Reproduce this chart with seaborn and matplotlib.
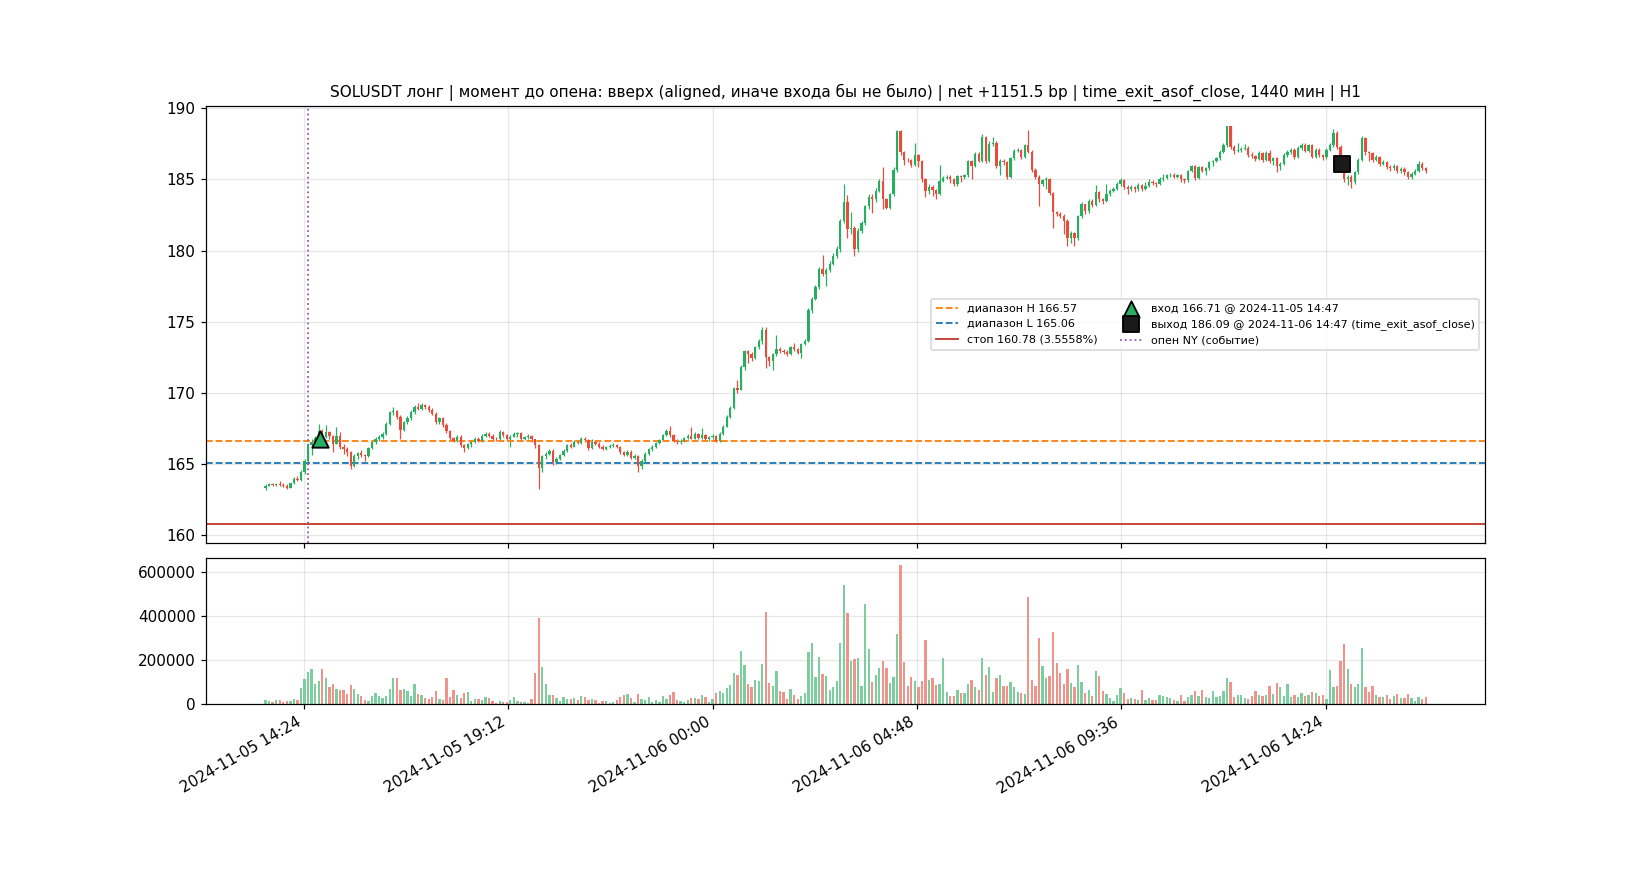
import numpy as np
import pandas as pd
import matplotlib
matplotlib.use('Agg')
import matplotlib.pyplot as plt
import matplotlib.dates as mdates
import seaborn as sns
from datetime import datetime

# ─────────────────────────────────────────────
# DATA (5-min bars, SOLUSDT)
# ─────────────────────────────────────────────

SYMBOL     = 'SOLUSDT'
FIRST_BAR  = datetime(2024, 11, 5, 13, 30)
BAR_MIN    = 5
FIRST_OPEN = 163.25

close_px = [
    163.45, 163.55, 163.50, 163.55, 163.50, 163.45, 163.30, 163.60, 163.95, 163.85,
    164.40, 165.20, 166.30, 166.50, 166.80, 167.30, 166.90, 167.25, 166.95, 166.40,
    166.95, 166.20, 166.05, 165.80, 164.85, 165.50, 165.75, 165.60, 165.50, 166.10,
    166.50, 166.70, 166.85, 167.10, 167.80, 168.60, 168.70, 168.30, 167.40, 167.90,
    168.20, 168.60, 169.00, 168.85, 169.10, 169.00, 168.80, 168.50, 167.90, 168.20,
    167.75, 167.30, 166.80, 166.60, 166.90, 166.30, 166.10, 166.35, 166.55, 166.75,
    166.60, 166.95, 167.05, 166.95, 166.75, 166.70, 167.25, 167.00, 166.75, 166.90,
    167.10, 167.15, 166.75, 166.85, 166.95, 166.70, 166.30, 164.70, 165.50, 165.70,
    165.90, 165.10, 165.35, 165.60, 165.90, 166.30, 166.20, 166.55, 166.45, 166.75,
    166.65, 166.10, 166.55, 166.40, 166.20, 166.05, 166.15, 166.25, 166.30, 166.20,
    165.80, 165.60, 165.85, 165.40, 165.55, 164.80, 165.20, 165.70, 166.00, 166.20,
    166.45, 166.65, 167.00, 167.30, 167.00, 166.60, 166.50, 166.60, 166.80, 166.95,
    166.75, 167.10, 166.80, 167.00, 166.70, 166.85, 166.95, 166.60, 167.10, 167.60,
    168.30, 168.90, 170.30, 170.20, 171.80, 172.90, 172.75, 172.40, 173.20, 173.60,
    174.40, 172.50, 172.20, 172.70, 173.10, 172.90, 172.85, 172.70, 173.20, 173.05,
    172.80, 173.40, 173.60, 175.80, 176.60, 177.40, 178.70, 178.35, 178.60, 179.05,
    179.60, 180.10, 182.10, 183.40, 181.50, 181.60, 180.10, 181.40, 181.95, 183.10,
    183.80, 183.60, 184.20, 184.90, 183.60, 183.00, 183.95, 185.70, 188.40, 186.90,
    186.40, 186.35, 186.00, 186.70, 186.30, 185.00, 184.20, 184.50, 184.25, 183.95,
    184.90, 185.10, 185.20, 185.00, 184.70, 185.25, 185.15, 185.30, 186.30, 185.95,
    186.80, 186.30, 188.00, 186.30, 187.50, 187.60, 185.95, 186.30, 186.20, 185.20,
    186.50, 187.00, 187.10, 186.60, 187.40, 186.95, 185.70, 185.20, 184.70, 184.95,
    185.00, 184.05, 182.70, 182.60, 182.45, 182.10, 180.90, 181.20, 180.85, 182.40,
    183.25, 182.75, 183.50, 183.20, 184.10, 183.60, 183.50, 183.95, 184.20, 184.35,
    184.65, 184.95, 184.50, 184.30, 184.45, 184.30, 184.60, 184.30, 184.55, 184.85,
    184.75, 184.70, 185.00, 185.10, 185.30, 185.35, 185.20, 185.30, 185.00, 184.95,
    185.60, 185.95, 185.10, 185.85, 185.60, 185.80, 186.20, 186.30, 186.50, 186.95,
    187.40, 188.75, 187.30, 187.00, 187.10, 187.15, 187.25, 186.75, 186.65, 186.45,
    186.85, 186.40, 186.85, 186.30, 186.50, 185.95, 186.10, 186.70, 186.90, 187.10,
    186.60, 187.20, 187.40, 187.00, 187.40, 186.60, 187.10, 186.70, 186.55, 187.10,
    187.40, 188.30, 187.30, 186.55, 185.00, 185.20, 184.80, 185.50, 186.40, 187.95,
    186.90, 186.85, 186.40, 186.55, 186.10, 186.20, 185.90, 185.80, 185.95, 185.60,
    185.75, 185.50, 185.20, 185.40, 185.60, 186.10, 185.80, 185.60,
]

high_px = [
    163.55, 163.65, 163.65, 163.65, 163.75, 163.60, 163.55, 163.65, 164.05, 164.10,
    164.55, 165.35, 166.45, 166.70, 166.95, 167.80, 167.45, 167.70, 167.30, 167.00,
    167.55, 167.25, 166.35, 166.15, 165.90, 165.65, 165.85, 165.95, 165.70, 166.20,
    166.60, 166.85, 167.00, 167.25, 167.95, 168.70, 168.95, 168.80, 168.40, 168.00,
    168.35, 168.75, 169.15, 169.30, 169.25, 169.20, 169.10, 168.90, 168.60, 168.30,
    168.30, 167.85, 167.40, 166.90, 167.00, 167.00, 166.40, 166.45, 166.65, 166.85,
    166.90, 167.05, 167.20, 167.20, 167.05, 166.90, 167.35, 167.30, 167.10, 167.00,
    167.20, 167.25, 167.20, 166.95, 167.05, 167.00, 166.75, 166.35, 165.60, 165.85,
    166.00, 166.00, 165.45, 165.70, 166.00, 166.40, 166.45, 166.65, 166.65, 166.85,
    166.90, 166.75, 166.70, 166.65, 166.50, 166.30, 166.25, 166.35, 166.45, 166.35,
    166.25, 165.90, 165.95, 165.95, 165.65, 165.60, 165.30, 165.80, 166.10, 166.30,
    166.55, 166.75, 167.10, 167.45, 167.65, 167.10, 166.70, 166.70, 166.90, 167.05,
    167.55, 167.20, 167.15, 167.50, 167.10, 166.95, 167.05, 167.00, 167.20, 167.75,
    168.40, 169.05, 170.40, 170.90, 171.95, 173.00, 173.00, 172.85, 173.30, 173.75,
    174.60, 174.60, 172.60, 172.80, 174.05, 173.20, 173.10, 173.00, 173.30, 173.50,
    173.15, 173.50, 173.75, 175.95, 176.75, 177.55, 178.85, 179.70, 178.75, 179.25,
    179.80, 180.35, 182.25, 184.65, 183.90, 182.70, 181.75, 181.60, 182.10, 183.20,
    184.00, 183.95, 184.40, 185.00, 185.85, 183.70, 184.05, 185.85, 188.45, 188.45,
    187.00, 186.50, 186.45, 187.60, 186.80, 186.40, 185.10, 184.70, 184.60, 184.35,
    186.00, 185.25, 185.35, 185.30, 185.10, 185.35, 185.35, 185.40, 186.40, 186.40,
    186.90, 186.90, 188.20, 188.05, 187.70, 188.00, 187.70, 186.45, 186.45, 186.30,
    186.60, 187.15, 187.20, 187.15, 187.50, 188.45, 187.05, 185.80, 185.30, 185.05,
    185.15, 185.10, 184.15, 182.80, 182.70, 182.55, 182.20, 181.35, 181.30, 182.50,
    183.40, 183.30, 183.60, 183.60, 184.60, 184.20, 183.70, 184.65, 184.35, 184.50,
    184.80, 185.10, 185.05, 184.60, 184.60, 184.55, 184.75, 184.70, 184.85, 185.00,
    184.95, 184.85, 185.15, 185.40, 185.40, 185.45, 185.45, 185.40, 185.40, 185.10,
    185.70, 186.05, 186.05, 185.95, 185.95, 185.90, 186.30, 186.40, 186.60, 187.05,
    187.55, 188.80, 188.75, 187.45, 187.60, 187.30, 187.50, 187.35, 186.90, 186.75,
    187.00, 186.95, 187.00, 187.05, 186.60, 186.55, 186.20, 186.85, 187.05, 187.20,
    187.20, 187.35, 187.60, 187.55, 187.50, 187.50, 187.25, 187.20, 186.80, 187.20,
    187.55, 188.55, 188.40, 187.40, 186.60, 185.35, 185.30, 185.60, 186.50, 188.05,
    188.00, 187.00, 186.95, 186.70, 186.65, 186.35, 186.30, 186.00, 186.10, 186.05,
    185.90, 185.85, 185.60, 185.55, 185.75, 186.30, 186.20, 185.90,
]

low_px = [
    163.15, 163.40, 163.40, 163.40, 163.40, 163.35, 163.20, 163.25, 163.55, 163.75,
    163.80, 164.30, 164.95, 165.60, 166.30, 166.70, 166.75, 166.80, 166.70, 165.85,
    166.35, 166.05, 165.70, 165.50, 164.60, 164.75, 165.35, 165.45, 165.15, 165.45,
    166.00, 166.40, 166.60, 166.75, 167.00, 167.70, 168.45, 168.15, 166.75, 167.30,
    167.80, 168.10, 168.50, 168.75, 168.80, 168.85, 168.65, 168.40, 167.80, 167.80,
    167.60, 167.15, 166.60, 166.50, 166.50, 166.20, 165.85, 166.00, 166.15, 166.45,
    166.50, 166.55, 166.90, 166.85, 166.65, 166.60, 166.65, 166.90, 166.60, 166.20,
    166.85, 166.90, 166.65, 166.65, 166.75, 166.55, 166.10, 163.20, 164.40, 165.30,
    165.60, 164.90, 164.95, 165.25, 165.50, 165.85, 166.10, 166.15, 166.35, 166.40,
    166.55, 165.95, 166.05, 166.30, 166.10, 165.95, 165.95, 166.10, 166.20, 166.10,
    165.70, 165.50, 165.50, 165.30, 165.30, 164.40, 164.65, 165.10, 165.60, 165.90,
    166.10, 166.40, 166.60, 166.95, 166.90, 166.50, 166.35, 166.40, 166.55, 166.75,
    166.70, 166.70, 166.70, 166.75, 166.60, 166.60, 166.75, 166.50, 166.55, 167.00,
    167.55, 168.20, 168.85, 169.95, 170.15, 171.60, 172.10, 172.20, 172.35, 173.10,
    173.40, 171.75, 171.90, 171.60, 172.60, 172.80, 172.70, 172.60, 172.65, 172.95,
    172.70, 172.45, 173.35, 173.55, 175.60, 176.50, 177.30, 178.20, 177.50, 178.50,
    178.95, 179.50, 179.90, 181.95, 180.90, 181.15, 179.60, 179.90, 181.20, 181.80,
    182.90, 182.65, 183.45, 184.10, 182.90, 182.90, 182.90, 183.85, 185.50, 186.70,
    186.05, 186.25, 185.90, 185.95, 185.85, 184.80, 183.80, 183.95, 183.85, 183.60,
    183.90, 184.80, 185.00, 184.75, 184.55, 184.55, 184.85, 185.00, 185.20, 185.05,
    185.85, 186.20, 186.20, 186.15, 186.20, 187.35, 185.80, 185.35, 186.05, 185.00,
    185.10, 186.40, 186.95, 186.45, 186.50, 186.85, 185.55, 185.05, 183.10, 184.55,
    184.30, 183.90, 181.60, 182.45, 182.30, 181.15, 180.35, 180.50, 180.30, 180.75,
    182.30, 182.60, 182.65, 183.05, 183.10, 183.45, 183.30, 183.45, 183.85, 184.10,
    184.25, 184.55, 184.35, 183.95, 184.20, 184.15, 184.20, 184.20, 184.25, 184.45,
    184.60, 184.45, 184.60, 184.90, 185.00, 185.20, 185.10, 185.10, 184.85, 184.75,
    184.85, 185.50, 184.95, 185.00, 185.50, 185.30, 185.70, 185.95, 186.20, 186.40,
    186.85, 187.30, 187.15, 186.80, 186.90, 186.95, 187.05, 186.60, 186.50, 186.30,
    186.35, 186.20, 186.30, 186.15, 186.00, 185.55, 185.70, 186.00, 186.60, 186.80,
    186.45, 186.50, 187.10, 186.90, 186.90, 186.50, 186.50, 186.55, 186.40, 186.45,
    187.00, 187.30, 187.15, 186.30, 184.80, 184.60, 184.40, 184.70, 185.40, 186.30,
    186.75, 186.30, 186.20, 186.30, 185.95, 186.00, 185.75, 185.60, 185.70, 185.45,
    185.45, 185.30, 185.00, 185.05, 185.30, 185.50, 185.65, 185.45,
]

# volume in thousands of SOL
volume_k = [
    18, 14, 9, 18, 18, 9, 14, 14, 23, 18,
    73, 114, 145, 159, 91, 105, 159, 118, 77, 91,
    68, 64, 64, 45, 86, 68, 45, 36, 18, 14,
    36, 50, 36, 27, 36, 68, 118, 118, 64, 68,
    59, 36, 91, 45, 41, 27, 23, 32, 59, 23,
    18, 118, 32, 64, 41, 27, 50, 55, 14, 23,
    23, 18, 32, 27, 14, 5, 14, 9, 9, 18,
    32, 14, 9, 9, 5, 23, 141, 391, 168, 91,
    41, 41, 27, 14, 32, 23, 23, 27, 18, 36,
    32, 18, 23, 18, 5, 14, 14, 5, 9, 18,
    32, 41, 45, 27, 9, 45, 23, 18, 32, 9,
    18, 9, 36, 23, 41, 55, 18, 14, 9, 18,
    27, 27, 23, 41, 32, 9, 23, 50, 59, 50,
    73, 86, 141, 132, 241, 177, 91, 77, 109, 105,
    182, 418, 95, 82, 150, 59, 55, 23, 68, 41,
    23, 36, 50, 236, 277, 123, 214, 136, 127, 64,
    77, 105, 277, 541, 414, 195, 205, 209, 82, 455,
    250, 100, 132, 164, 195, 164, 95, 123, 318, 632,
    191, 82, 123, 105, 77, 105, 291, 109, 118, 86,
    91, 209, 55, 36, 36, 64, 50, 50, 91, 109,
    77, 64, 209, 132, 168, 55, 118, 132, 82, 82,
    100, 77, 55, 50, 45, 486, 109, 82, 300, 173,
    118, 127, 327, 186, 141, 91, 159, 95, 77, 177,
    100, 50, 64, 36, 150, 127, 59, 45, 27, 14,
    41, 73, 50, 23, 27, 23, 18, 64, 18, 27,
    18, 18, 41, 36, 32, 27, 18, 14, 41, 14,
    32, 41, 59, 36, 64, 32, 27, 59, 32, 36,
    59, 118, 100, 32, 41, 41, 27, 23, 36, 59,
    41, 36, 41, 82, 45, 95, 77, 36, 91, 32,
    41, 32, 50, 36, 41, 55, 50, 36, 41, 23,
    155, 77, 82, 195, 273, 159, 91, 77, 91, 255,
    77, 55, 82, 41, 32, 32, 41, 23, 36, 45,
    27, 27, 45, 27, 14, 32, 23, 32,
]

# trade / levels
RANGE_H    = 166.57
RANGE_L    = 165.06
STOP_PX    = 160.78
STOP_PCT   = 3.5558
ENTRY_PX   = 166.71
ENTRY_TIME = datetime(2024, 11, 5, 14, 47)
EXIT_PX    = 186.09
EXIT_TIME  = datetime(2024, 11, 6, 14, 47)
NY_OPEN    = datetime(2024, 11, 5, 14, 30)
NET_BP     = 1151.5
HOLD_MIN   = 1440

GREEN = '#27ae60'
RED   = '#e74c3c'


# ─────────────────────────────────────────────
# BUILD FRAME
# ─────────────────────────────────────────────

def build_frame():
    assert len(close_px) == len(high_px) == len(low_px) == len(volume_k)
    times = pd.date_range(FIRST_BAR, periods=len(close_px), freq=f'{BAR_MIN}min')
    df = pd.DataFrame({
        'close':  close_px,
        'high':   high_px,
        'low':    low_px,
        'volume': np.array(volume_k) * 1000,
    }, index=times)
    df['open'] = df['close'].shift(1).fillna(FIRST_OPEN)
    df['x'] = mdates.date2num(times.to_pydatetime())
    df['up'] = df['close'] >= df['open']
    return df


# ─────────────────────────────────────────────
# PLOT
# ─────────────────────────────────────────────

def plot_trade(df):
    fig, (ax, axv) = plt.subplots(
        2, 1, figsize=(15, 8), dpi=110, sharex=True,
        gridspec_kw={'height_ratios': [3, 1], 'hspace': 0.05}
    )

    colors = np.where(df['up'], GREEN, RED)
    width = BAR_MIN / 1440 * 0.65
    body_lo = np.minimum(df['open'], df['close'])
    body_h = (df['close'] - df['open']).abs()

    # candles
    ax.vlines(df['x'], df['low'], df['high'], color=colors, linewidth=0.8, zorder=2)
    ax.bar(df['x'], body_h, width=width, bottom=body_lo, color=colors, zorder=3)

    # levels
    h_range_h = ax.axhline(RANGE_H, color='#ff7f0e', linestyle='--', linewidth=1.2,
                           label=f'диапазон H {RANGE_H:.2f}')
    h_range_l = ax.axhline(RANGE_L, color='#1f77b4', linestyle='--', linewidth=1.2,
                           label=f'диапазон L {RANGE_L:.2f}')
    h_stop = ax.axhline(STOP_PX, color='#c0392b', linestyle='-', linewidth=1.2,
                        label=f'стоп {STOP_PX:.2f} ({STOP_PCT:.4f}%)')
    h_ny = ax.axvline(mdates.date2num(NY_OPEN), color='#9b59b6', linestyle=':',
                      linewidth=1.2, label='опен NY (событие)')

    # entry / exit markers
    sns.scatterplot(x=[mdates.date2num(ENTRY_TIME)], y=[ENTRY_PX], ax=ax, marker='^',
                    s=115, color=GREEN, edgecolor='black', linewidth=1.2, zorder=6)
    sns.scatterplot(x=[mdates.date2num(EXIT_TIME)], y=[EXIT_PX], ax=ax, marker='s',
                    s=115, color='#1a1a1a', edgecolor='black', linewidth=1.2, zorder=6)
    h_entry = ax.collections[-2]
    h_exit = ax.collections[-1]
    h_entry.set_label(f'вход {ENTRY_PX:.2f} @ {ENTRY_TIME:%Y-%m-%d %H:%M}')
    h_exit.set_label(f'выход {EXIT_PX:.2f} @ {EXIT_TIME:%Y-%m-%d %H:%M} (time_exit_asof_close)')

    ax.legend(handles=[h_range_h, h_range_l, h_stop, h_entry, h_exit, h_ny],
              loc='center right', ncol=2, fontsize=7.3)
    ax.set_title(f'{SYMBOL} лонг | момент до опена: вверх (aligned, иначе входа бы не было) | '
                 f'net +{NET_BP} bp | time_exit_asof_close, {HOLD_MIN} мин | H1', fontsize=10)
    ax.grid(alpha=0.3)

    # volume
    axv.bar(df['x'], df['volume'], width=width, color=colors, alpha=0.6)
    axv.grid(alpha=0.3)

    axv.xaxis.set_major_formatter(mdates.DateFormatter('%Y-%m-%d %H:%M'))
    fig.autofmt_xdate()

    fig.savefig('out.png', dpi=110)


if __name__ == '__main__':
    df = build_frame()
    plot_trade(df)
